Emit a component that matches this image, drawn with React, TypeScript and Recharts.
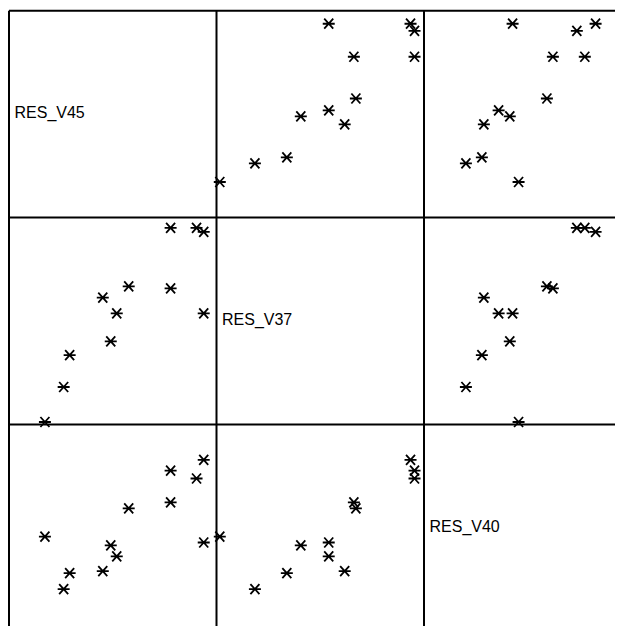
import React from 'react';
import { ScatterChart, Scatter, XAxis, YAxis } from 'recharts';

// residuals for the three variables, one entry per observation
const names = ['RES_V45', 'RES_V37', 'RES_V40'];
const resV45 = [-1.7, -1.23, -1.08, -0.25, 0.1, -0.05, 0.4, 1.45, 1.45, 2.1, 2.28, 2.28];
const resV37 = [-2.53, -1.65, -0.85, 0.6, 0.2, -0.5, 0.88, 0.83, 2.35, 2.35, 2.25, 0.2];
const resV40 = [-0.23, -1.55, -1.15, -1.1, -0.73, -0.45, 0.48, 0.63, 1.43, 1.23, 1.7, -0.38];
const domain: [number, number] = [-2.6, 2.6];

const vars = [resV45, resV37, resV40];

const cellX = [1, 208.5, 416];
const cellY = [2.8, 209.6, 416.4];
const cellW = 207.5;
const cellH = 206.8;

const Asterisk = (props: any) => {
  const { cx, cy } = props;
  if (cx == null || cy == null) return null;
  return (
    <path
      d={`M${cx - 6},${cy}H${cx + 6}M${cx - 4.5},${cy - 5}L${cx + 4.5},${cy + 5}M${cx - 4.5},${cy + 5}L${cx + 4.5},${cy - 5}`}
      stroke="#000"
      strokeWidth={1.8}
      fill="none"
    />
  );
};

const Cell = ({ row, col }: { row: number; col: number }) => {
  const data = vars[col].map((x, i) => ({ x, y: vars[row][i] }));
  return (
    <div style={{ position: 'absolute', left: cellX[col], top: cellY[row] }}>
      <ScatterChart width={cellW} height={cellH} margin={{ top: 0, right: 0, bottom: 0, left: 0 }}>
        <XAxis type="number" dataKey="x" domain={domain} hide />
        <YAxis type="number" dataKey="y" domain={domain} hide />
        <Scatter data={data} shape={Asterisk} isAnimationActive={false} />
      </ScatterChart>
    </div>
  );
};

export default function App() {
  const cells = [];
  for (let r = 0; r < 3; r++) {
    for (let c = 0; c < 3; c++) {
      if (r !== c) cells.push(<Cell key={`${r}-${c}`} row={r} col={c} />);
    }
  }
  return (
    <div style={{ position: 'relative', width: 624, height: 624, fontFamily: '"Liberation Sans", Arial, sans-serif' }}>
      <style>{'body{overflow:hidden} .recharts-surface{overflow:visible}'}</style>
      {cells}
      <svg width={640} height={640} style={{ position: 'absolute', left: 0, top: 0, pointerEvents: 'none', overflow: 'visible' }}>
        {[0, 1, 2, 3].map((i) => (
          <line key={`v${i}`} x1={1 + i * cellW} x2={1 + i * cellW} y1={cellY[0]} y2={cellY[0] + 3 * cellH} stroke="#000" strokeWidth={2} />
        ))}
        {[0, 1, 2, 3].map((i) => (
          <line key={`h${i}`} x1={cellX[0]} x2={cellX[0] + 3 * cellW} y1={cellY[0] + i * cellH} y2={cellY[0] + i * cellH} stroke="#000" strokeWidth={2} />
        ))}
        {names.map((n, i) => (
          <text key={n} x={cellX[i] + 5.5} y={cellY[i] + 107.5} fontSize={16} fill="#000">
            {n}
          </text>
        ))}
      </svg>
    </div>
  );
}
